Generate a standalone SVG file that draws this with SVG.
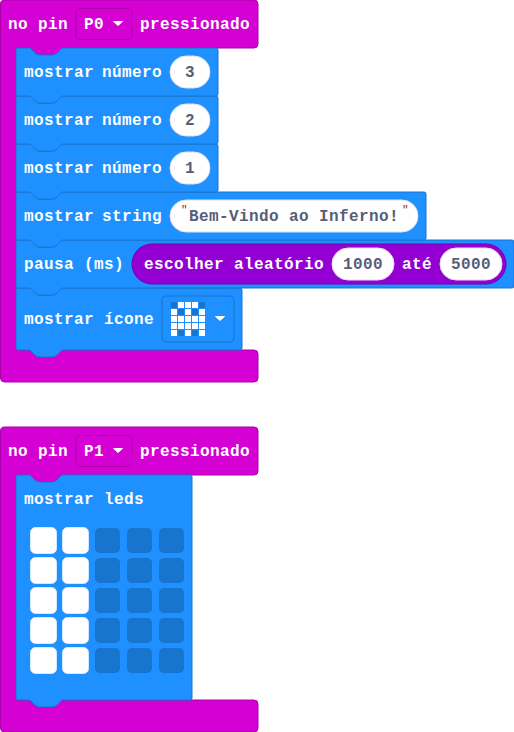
<svg xmlns="http://www.w3.org/2000/svg" width="514" height="732" viewBox="0 0 514 732">
<style>
text{font-family:"Liberation Mono",monospace;font-weight:700;font-size:16px;letter-spacing:.4px;white-space:pre}
.w{fill:#fff}
.v{fill:#575E75}
.q{font-size:11px;font-weight:400;fill:#A31515;letter-spacing:0}
.hat{fill:#D400D4;stroke:#AA00AA;stroke-width:1}
.b{fill:#1E90FF;stroke:#1874CC;stroke-width:1}
.p{fill:#fff;stroke:#E2E2EA;stroke-width:1}
.dd{fill:#D400D4;stroke:#AA00AA;stroke-width:1}
.car{fill:#fff;stroke:#fff;stroke-width:1;stroke-linejoin:round}
.on{fill:#fff}
.off{fill:#1874CC}
.led{fill:#fff;stroke:#D2E9FF;stroke-width:1}
.ledoff{fill:#1874CC}
</style>
<g id="connectors"/>
<g id="hat-p0">
<path class="hat" d="M0.500 4a4 4 0 0 1 4-4H254a4 4 0 0 1 4 4V44a4 4 0 0 1-4 4H62l-5 5q-2 2-5 2h-12q-3 0-5-2l-5-5H18a2 2 0 0 0-2 2V348a2 2 0 0 0 2 2H30l5 5q2 2 5 2h12q3 0 5-2l5-5H254a4 4 0 0 1 4 4V378a4 4 0 0 1-4 4H4.500a4 4 0 0 1-4-4Z"/>
<text class="w" x="8" y="29">no pin</text>
<rect class="dd" x="76" y="8.500" width="56" height="31" rx="4"/>
<text class="w" x="84" y="29">P0</text>
<path class="car" d="M113.500 21.500h9l-4.500 4Z"/>
<text class="w" x="140" y="29">pressionado</text>
</g>
<g id="show-icon">
<path class="b" d="M16 290a2 2 0 0 1 2-2H30l5 5q2 2 5 2h12q3 0 5-2l5-5H240a2 2 0 0 1 2 2V348a2 2 0 0 1-2 2H62l-5 5q-2 2-5 2h-12q-3 0-5-2l-5-5H18a2 2 0 0 1-2-2Z"/>
<text class="w" x="24" y="324">mostrar ícone</text>
<rect class="b" x="162" y="296" width="72" height="46" rx="4"/>
<g class="off">
<rect x="171" y="302" width="6" height="6"/><rect x="199" y="302" width="6" height="6"/>
<rect x="178" y="309" width="6" height="6"/><rect x="192" y="309" width="6" height="6"/>
<rect x="178" y="330" width="6" height="6"/><rect x="192" y="330" width="6" height="6"/>
</g>
<g class="on">
<rect x="178" y="302" width="6" height="6"/><rect x="185" y="302" width="6" height="6"/><rect x="192" y="302" width="6" height="6"/>
<rect x="171" y="309" width="6" height="6"/><rect x="185" y="309" width="6" height="6"/><rect x="199" y="309" width="6" height="6"/>
<rect x="171" y="316" width="6" height="6"/><rect x="178" y="316" width="6" height="6"/><rect x="185" y="316" width="6" height="6"/><rect x="192" y="316" width="6" height="6"/><rect x="199" y="316" width="6" height="6"/>
<rect x="171" y="323" width="6" height="6"/><rect x="178" y="323" width="6" height="6"/><rect x="185" y="323" width="6" height="6"/><rect x="192" y="323" width="6" height="6"/><rect x="199" y="323" width="6" height="6"/>
<rect x="171" y="330" width="6" height="6"/><rect x="185" y="330" width="6" height="6"/><rect x="199" y="330" width="6" height="6"/>
</g>
<path class="car" d="M215.500 316.500h9l-4.500 4Z"/>
</g>
<g id="pause">
<path class="b" d="M16 242a2 2 0 0 1 2-2H30l5 5q2 2 5 2h12q3 0 5-2l5-5H512a2 2 0 0 1 2 2V286a2 2 0 0 1-2 2H62l-5 5q-2 2-5 2h-12q-3 0-5-2l-5-5H18a2 2 0 0 1-2-2Z"/>
<text class="w" x="24" y="269">pausa (ms)</text>
<rect x="132" y="244" width="374" height="40" rx="20" fill="#9400D3" stroke="#7600A9"/>
<text class="w" x="144" y="269">escolher aleatório</text>
<rect class="p" x="332" y="248" width="62" height="32" rx="16"/>
<text class="v" x="343" y="269">1000</text>
<text class="w" x="402" y="269">até</text>
<rect class="p" x="440" y="248" width="62" height="32" rx="16"/>
<text class="v" x="451" y="269">5000</text>
</g>
<g id="show-string">
<path class="b" d="M16 194a2 2 0 0 1 2-2H30l5 5q2 2 5 2h12q3 0 5-2l5-5H424a2 2 0 0 1 2 2V238a2 2 0 0 1-2 2H62l-5 5q-2 2-5 2h-12q-3 0-5-2l-5-5H18a2 2 0 0 1-2-2Z"/>
<text class="w" x="24" y="221">mostrar<tspan x="102">string</tspan></text>
<rect class="p" x="170" y="200" width="248" height="32" rx="16"/>
<text class="q" x="181" y="213">"</text>
<text class="v" x="189" y="221">Bem-Vindo ao Inferno!</text>
<text class="q" x="402" y="213">"</text>
</g>
<g id="show-number-1">
<path class="b" d="M16 146a2 2 0 0 1 2-2H30l5 5q2 2 5 2h12q3 0 5-2l5-5H216a2 2 0 0 1 2 2V190a2 2 0 0 1-2 2H62l-5 5q-2 2-5 2h-12q-3 0-5-2l-5-5H18a2 2 0 0 1-2-2Z"/>
<text class="w" x="24" y="173">mostrar<tspan x="102">número</tspan></text>
<rect class="p" x="170" y="152" width="40" height="32" rx="16"/>
<text class="v" x="185" y="173">1</text>
</g>
<g id="show-number-2">
<path class="b" d="M16 98a2 2 0 0 1 2-2H30l5 5q2 2 5 2h12q3 0 5-2l5-5H216a2 2 0 0 1 2 2V142a2 2 0 0 1-2 2H62l-5 5q-2 2-5 2h-12q-3 0-5-2l-5-5H18a2 2 0 0 1-2-2Z"/>
<text class="w" x="24" y="125">mostrar<tspan x="102">número</tspan></text>
<rect class="p" x="170" y="104" width="40" height="32" rx="16"/>
<text class="v" x="185" y="125">2</text>
</g>
<g id="show-number-3">
<path class="b" d="M16 50a2 2 0 0 1 2-2H30l5 5q2 2 5 2h12q3 0 5-2l5-5H216a2 2 0 0 1 2 2V94a2 2 0 0 1-2 2H62l-5 5q-2 2-5 2h-12q-3 0-5-2l-5-5H18a2 2 0 0 1-2-2Z"/>
<text class="w" x="24" y="77">mostrar<tspan x="102">número</tspan></text>
<rect class="p" x="170" y="56" width="40" height="32" rx="16"/>
<text class="v" x="185" y="77">3</text>
</g>
<g id="hat-p1">
<path class="hat" d="M0.500 431a4 4 0 0 1 4-4H254a4 4 0 0 1 4 4V471a4 4 0 0 1-4 4H62l-5 5q-2 2-5 2h-12q-3 0-5-2l-5-5H18a2 2 0 0 0-2 2V698a2 2 0 0 0 2 2H30l5 5q2 2 5 2h12q3 0 5-2l5-5H254a4 4 0 0 1 4 4V728a4 4 0 0 1-4 4H4.500a4 4 0 0 1-4-4Z"/>
<text class="w" x="8" y="456">no pin</text>
<rect class="dd" x="76" y="435.500" width="56" height="31" rx="4"/>
<text class="w" x="84" y="456">P1</text>
<path class="car" d="M113.500 448.500h9l-4.500 4Z"/>
<text class="w" x="140" y="456">pressionado</text>
</g>
<g id="show-leds">
<path class="b" d="M16 477a2 2 0 0 1 2-2H30l5 5q2 2 5 2h12q3 0 5-2l5-5H190a2 2 0 0 1 2 2V698a2 2 0 0 1-2 2H62l-5 5q-2 2-5 2h-12q-3 0-5-2l-5-5H18a2 2 0 0 1-2-2Z"/>
<text class="w" x="24" y="504">mostrar leds</text>
<g>
<rect class="led" x="30.500" y="527.500" width="26" height="26" rx="5"/><rect class="led" x="62.500" y="527.500" width="26" height="26" rx="5"/>
<rect class="led" x="30.500" y="557.500" width="26" height="26" rx="5"/><rect class="led" x="62.500" y="557.500" width="26" height="26" rx="5"/>
<rect class="led" x="30.500" y="587.500" width="26" height="26" rx="5"/><rect class="led" x="62.500" y="587.500" width="26" height="26" rx="5"/>
<rect class="led" x="30.500" y="617.500" width="26" height="26" rx="5"/><rect class="led" x="62.500" y="617.500" width="26" height="26" rx="5"/>
<rect class="led" x="30.500" y="647.500" width="26" height="26" rx="5"/><rect class="led" x="62.500" y="647.500" width="26" height="26" rx="5"/>
</g>
<g class="ledoff">
<rect x="95" y="528" width="25" height="25" rx="5"/><rect x="127" y="528" width="25" height="25" rx="5"/><rect x="159" y="528" width="25" height="25" rx="5"/>
<rect x="95" y="558" width="25" height="25" rx="5"/><rect x="127" y="558" width="25" height="25" rx="5"/><rect x="159" y="558" width="25" height="25" rx="5"/>
<rect x="95" y="588" width="25" height="25" rx="5"/><rect x="127" y="588" width="25" height="25" rx="5"/><rect x="159" y="588" width="25" height="25" rx="5"/>
<rect x="95" y="618" width="25" height="25" rx="5"/><rect x="127" y="618" width="25" height="25" rx="5"/><rect x="159" y="618" width="25" height="25" rx="5"/>
<rect x="95" y="648" width="25" height="25" rx="5"/><rect x="127" y="648" width="25" height="25" rx="5"/><rect x="159" y="648" width="25" height="25" rx="5"/>
</g>
</g>
</svg>
